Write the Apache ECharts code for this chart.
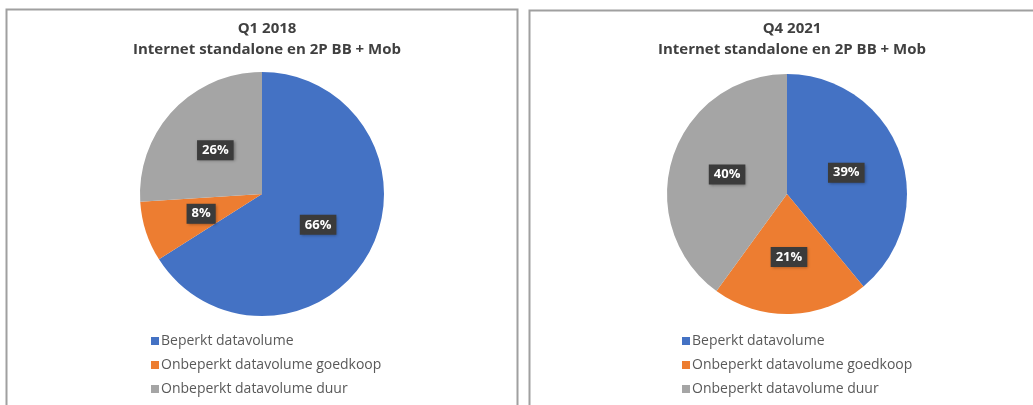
<!DOCTYPE html>
<html><head><meta charset="utf-8">
<script src="https://cdn.jsdelivr.net/npm/echarts@6/dist/echarts.min.js"></script>
<style>html,body{margin:0;padding:0;background:#fff}#c{width:1033px;height:405px}</style>
</head><body><div id="c"></div>
<script>
const categories = ['Beperkt datavolume', 'Onbeperkt datavolume goedkoop', 'Onbeperkt datavolume duur'];
const q1_2018 = [66, 8, 26];
const q4_2021 = [39, 21, 40];
const titles = ['Q1 2018\nInternet standalone en 2P BB + Mob', 'Q4 2021\nInternet standalone en 2P BB + Mob'];
const colors = ['#4472C4', '#ED7D31', '#A5A5A5'];

const FONT = 'Open Sans';
const chart = echarts.init(document.getElementById('c'), null, {renderer: 'canvas'});

function mkData(vals) {
  return categories.map((n, i) => ({name: n, value: vals[i], itemStyle: {color: colors[i]}}));
}
const labelStyle = {
  show: true, position: 'inside', formatter: p => p.value + '%',
  color: '#fff', fontWeight: 'bold', fontSize: 13, fontFamily: FONT,
  backgroundColor: '#3b3b3b', padding: [4, 5, 3, 5],
  shadowColor: 'rgba(0,0,0,0.35)', shadowBlur: 3, shadowOffsetX: 1, shadowOffsetY: 1
};
function mkLegend(left) {
  return {
    orient: 'vertical', left: left, top: 328, icon: 'rect', itemWidth: 8, itemHeight: 8,
    itemGap: 8, data: categories,
    textStyle: {color: '#595959', fontSize: 14, fontFamily: FONT, lineHeight: 16, padding: [0, 0, 0, -3]}
  };
}
chart.setOption({
  animation: false,
  graphic: [
    {type: 'rect', shape: {x: 6.5, y: 9.5, width: 511, height: 420}, style: {fill: 'none', stroke: '#a0a0a0', lineWidth: 2}},
    {type: 'rect', shape: {x: 529.5, y: 10.5, width: 520, height: 420}, style: {fill: 'none', stroke: '#a0a0a0', lineWidth: 2}}
  ],
  title: [
    {text: titles[0], left: 262, top: 13, textAlign: 'center',
     textStyle: {fontFamily: FONT, fontSize: 15, fontWeight: 'bold', color: '#404040', lineHeight: 21}},
    {text: titles[1], left: 787, top: 13, textAlign: 'center',
     textStyle: {fontFamily: FONT, fontSize: 15, fontWeight: 'bold', color: '#404040', lineHeight: 21}}
  ],
  legend: [mkLegend(146), mkLegend(677)],
  series: [
    {type: 'pie', center: [262, 194], radius: 122, startAngle: 90, clockwise: true,
     label: labelStyle, labelLine: {show: false}, emphasis: {disabled: true},
     itemStyle: {borderWidth: 0}, data: mkData(q1_2018)},
    {type: 'pie', center: [787, 194], radius: 120, startAngle: 90, clockwise: true,
     label: labelStyle, labelLine: {show: false}, emphasis: {disabled: true},
     itemStyle: {borderWidth: 0}, data: mkData(q4_2021)}
  ]
});
</script></body></html>
